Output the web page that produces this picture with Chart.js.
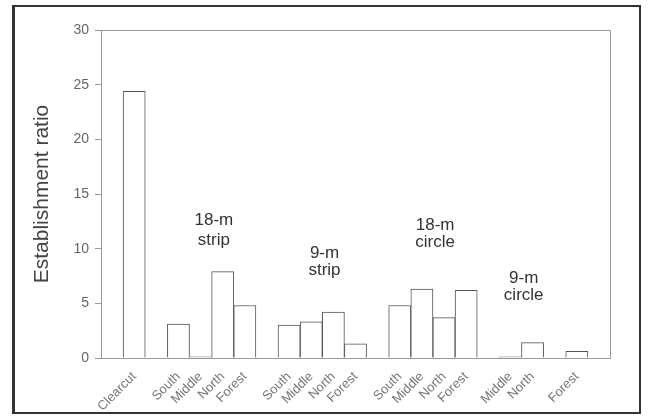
<!DOCTYPE html>
<html>
<head>
<meta charset="utf-8">
<script src="https://cdn.jsdelivr.net/npm/chart.js@4/dist/chart.umd.min.js"></script>
<style>
  body { margin: 0; background: #fff; }
  #wrap { position: relative; width: 651px; height: 420px; }
  #frame { position: absolute; left: 12px; top: 5px; width: 624px; height: 405px;
           border: 2px solid #333; border-left-width: 3px; pointer-events: none; }
</style>
</head>
<body>
<div id="wrap">
  <canvas id="chart" width="651" height="420"></canvas>
  <div id="frame"></div>
</div>
<script>
// categories (empty strings are the gaps between groups)
const categories = ['', 'Clearcut', '',
    'South', 'Middle', 'North', 'Forest', '',
    'South', 'Middle', 'North', 'Forest', '',
    'South', 'Middle', 'North', 'Forest', '',
    'Middle', 'North', '', 'Forest', ''];
const ratios = [null, 24.4, null,
    3.1, 0.1, 7.9, 4.8, null,
    3.0, 3.3, 4.2, 1.3, null,
    4.8, 6.3, 3.7, 6.2, null,
    0.1, 1.4, null, 0.6, null];
const yTicks = [0, 5, 10, 15, 20, 25, 30];

// group captions: [category index, y value, text]
const groupNotes = [
    [4.6, 12.6, '18-m'], [4.6, 10.8, 'strip'],
    [9.6, 9.6, '9-m'], [9.6, 8.0, 'strip'],
    [14.6, 12.1, '18-m'], [14.6, 10.6, 'circle'],
    [18.6, 7.3, '9-m'], [18.6, 5.7, 'circle']
];

const boxAndNotes = {
    id: 'boxAndNotes',
    afterDatasetsDraw(chart) {
        const { ctx, chartArea, scales } = chart;
        ctx.save();
        ctx.strokeStyle = '#999';
        ctx.lineWidth = 1;
        ctx.beginPath();
        ctx.moveTo(chartArea.left, chartArea.top + 0.5);
        ctx.lineTo(chartArea.right + 0.5, chartArea.top + 0.5);
        ctx.lineTo(chartArea.right + 0.5, chartArea.bottom);
        ctx.stroke();
        ctx.fillStyle = '#333';
        ctx.font = '17px "Liberation Sans", Arial, sans-serif';
        ctx.textAlign = 'center';
        ctx.textBaseline = 'middle';
        const step = scales.x.getPixelForValue(1) - scales.x.getPixelForValue(0);
        groupNotes.forEach(([i, v, t]) => {
            const x = scales.x.getPixelForValue(Math.floor(i)) + (i - Math.floor(i)) * step;
            ctx.fillText(t, x, scales.y.getPixelForValue(v));
        });
        ctx.restore();
    }
};

new Chart(document.getElementById('chart'), {
    type: 'bar',
    data: {
        labels: categories,
        datasets: [{
            data: ratios,
            backgroundColor: '#fff',
            borderColor: '#555',
            borderWidth: 1,
            categoryPercentage: 1,
            barPercentage: 1
        }]
    },
    options: {
        responsive: false,
        animation: false,
        layout: { padding: { left: 20, top: 30, right: 41, bottom: 0 } },
        plugins: { legend: { display: false }, tooltip: { enabled: false } },
        scales: {
            x: {
                grid: { display: false },
                border: { color: '#999' },
                ticks: {
                    autoSkip: false,
                    maxRotation: 45,
                    minRotation: 45,
                    color: '#777',
                    font: { size: 13, family: '"Liberation Sans", Arial, sans-serif' }
                },
                afterFit(scale) { scale.height = 62; }
            },
            y: {
                min: 0,
                max: 30,
                afterBuildTicks(scale) { scale.ticks = yTicks.map(v => ({ value: v })); },
                grid: { drawOnChartArea: false, tickLength: 6, color: '#999' },
                border: { color: '#999' },
                ticks: {
                    color: '#666',
                    padding: 6,
                    font: { size: 14, family: '"Liberation Sans", Arial, sans-serif' }
                },
                title: {
                    display: true,
                    text: 'Establishment ratio',
                    color: '#444',
                    padding: { top: 10, bottom: 0 },
                    font: { size: 21, family: '"Liberation Sans", Arial, sans-serif' }
                },
                afterFit(scale) { scale.width = 81; }
            }
        }
    },
    plugins: [boxAndNotes]
});
</script>
</body>
</html>
